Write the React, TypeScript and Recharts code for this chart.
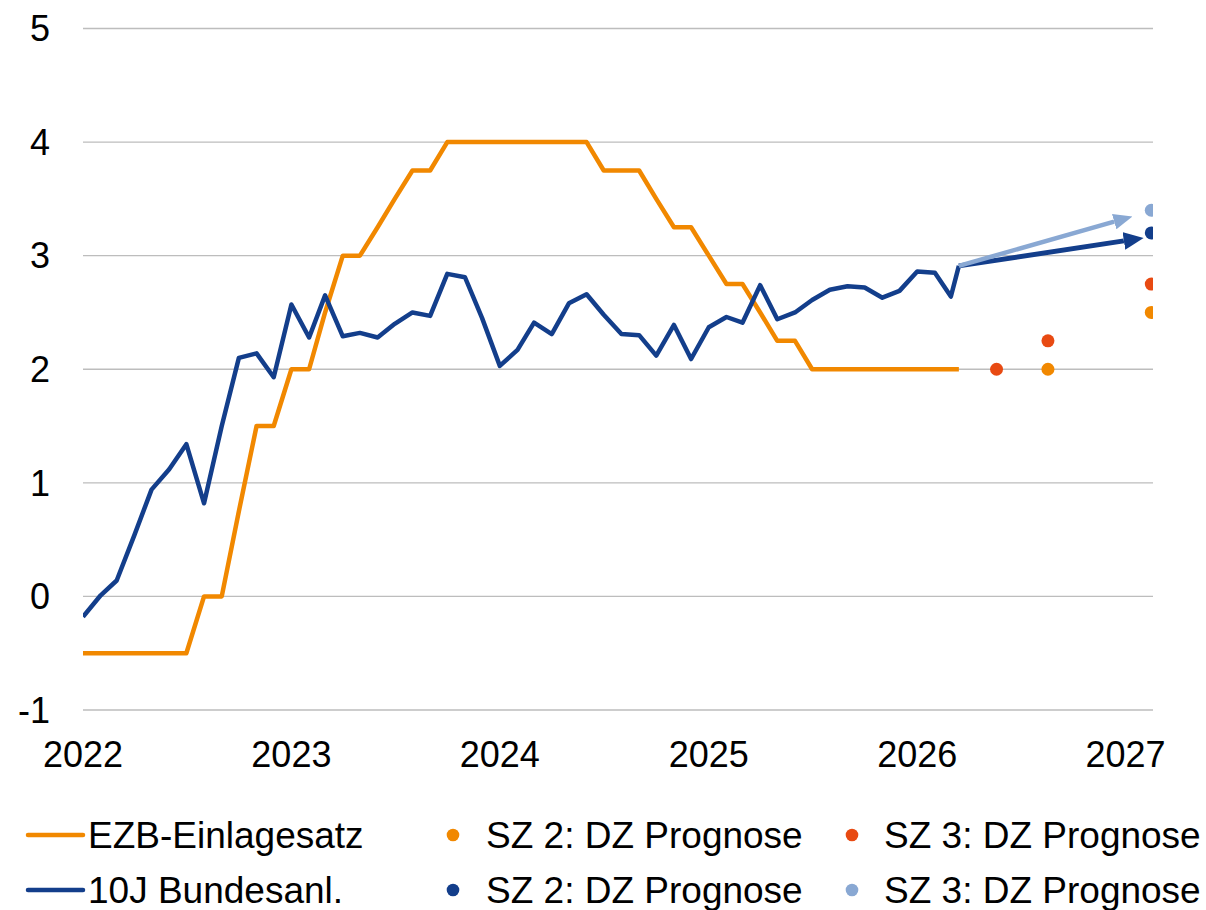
import { CartesianGrid, Line, LineChart, XAxis, YAxis } from "recharts";

const histDates = [
  "2022-01-01", "2022-02-01", "2022-03-01", "2022-04-01", "2022-05-01", "2022-06-01",
  "2022-07-01", "2022-08-01", "2022-09-01", "2022-10-01", "2022-11-01", "2022-12-01",
  "2023-01-01", "2023-02-01", "2023-03-01", "2023-04-01", "2023-05-01", "2023-06-01",
  "2023-07-01", "2023-08-01", "2023-09-01", "2023-10-01", "2023-11-01", "2023-12-01",
  "2024-01-01", "2024-02-01", "2024-03-01", "2024-04-01", "2024-05-01", "2024-06-01",
  "2024-07-01", "2024-08-01", "2024-09-01", "2024-10-01", "2024-11-01", "2024-12-01",
  "2025-01-01", "2025-02-01", "2025-03-01", "2025-04-01", "2025-05-01", "2025-06-01",
  "2025-07-01", "2025-08-01", "2025-09-01", "2025-10-01", "2025-11-01", "2025-12-01",
  "2026-01-01", "2026-02-01", "2026-03-01", "2026-03-15",
];

const ezbRate = [
  -0.5, -0.5, -0.5, -0.5, -0.5, -0.5, -0.5, 0, 0, 0.75, 1.5, 1.5,
  2, 2, 2.5, 3, 3, 3.25, 3.5, 3.75, 3.75, 4, 4, 4,
  4, 4, 4, 4, 4, 4, 3.75, 3.75, 3.75, 3.5, 3.25, 3.25,
  3, 2.75, 2.75, 2.5, 2.25, 2.25, 2, 2, 2, 2, 2, 2,
  2, 2, 2, 2,
];

const bund10y = [
  -0.18, 0.01, 0.14, 0.54, 0.94, 1.12, 1.34, 0.82, 1.5, 2.1, 2.14, 1.93,
  2.57, 2.28, 2.65, 2.29, 2.32, 2.28, 2.4, 2.5, 2.47, 2.84, 2.81, 2.45,
  2.03, 2.17, 2.41, 2.31, 2.58, 2.66, 2.48, 2.31, 2.3, 2.12, 2.39, 2.09,
  2.37, 2.46, 2.41, 2.74, 2.44, 2.5, 2.61, 2.7, 2.73, 2.72, 2.63, 2.69,
  2.86, 2.85, 2.64, 2.91,
];

const forecastDates = ["2026-05-20", "2026-08-18", "2027-02-15"];
const sz2Ezb = [null, 2.0, 2.5];
const sz3Ezb = [2.0, 2.25, 2.75];
const sz2Bund = [null, null, 3.2];
const sz3Bund = [null, null, 3.4];

const arrowDates = ["2026-03-15", "2026-12-29"];
const sz2ArrowValues = [2.91, 3.13];
const arrowDatesSz3 = ["2026-03-15", "2026-12-12"];
const sz3ArrowValues = [2.91, 3.3];

const yearTicks = ["2022-01-01", "2023-01-01", "2024-01-01", "2025-01-01", "2026-01-01", "2027-01-01"];
const yTicks = [-1, 0, 1, 2, 3, 4, 5];
const xDomainDates = ["2022-01-01", "2027-02-18"];

const ORANGE = "#F18800";
const RED = "#E84A12";
const BLUE = "#133E8B";
const LIGHT_BLUE = "#89A8D3";

const legendItems = [
  { label: "EZB-Einlagesatz", color: ORANGE, kind: "line", col: 0, row: 0 },
  { label: "10J Bundesanl.", color: BLUE, kind: "line", col: 0, row: 1 },
  { label: "SZ 2: DZ Prognose", color: ORANGE, kind: "dot", col: 1, row: 0 },
  { label: "SZ 2: DZ Prognose", color: BLUE, kind: "dot", col: 1, row: 1 },
  { label: "SZ 3: DZ Prognose", color: RED, kind: "dot", col: 2, row: 0 },
  { label: "SZ 3: DZ Prognose", color: LIGHT_BLUE, kind: "dot", col: 2, row: 1 },
];

const toX = (s: string) => {
  const [y, m, d] = s.split("-").map(Number);
  return Date.UTC(y, m - 1, d);
};

const zip = (dates: string[], values: (number | null)[]) =>
  dates.map((d, i) => ({ x: toX(d), y: values[i] }));

const ezbData = zip(histDates, ezbRate);
const bundData = zip(histDates, bund10y);
const sz2EzbData = zip(forecastDates, sz2Ezb);
const sz3EzbData = zip(forecastDates, sz3Ezb);
const sz2BundData = zip(forecastDates, sz2Bund);
const sz3BundData = zip(forecastDates, sz3Bund);
const sz2Arrow = zip(arrowDates, sz2ArrowValues);
const sz3Arrow = zip(arrowDatesSz3, sz3ArrowValues);

const FONT = "'Liberation Sans', Arial, sans-serif";

function Legend() {
  const lineX = [28, 453, 852];
  const textX = [88, 486, 884];
  const rowY = [835, 890];
  return (
    <svg width={1206} height={110} style={{ position: "absolute", left: 0, top: 800 }}>
      {legendItems.map((item, i) => {
        const cy = rowY[item.row] - 800;
        return (
          <g key={i}>
            {item.kind === "line" ? (
              <line x1={lineX[item.col]} x2={83} y1={cy} y2={cy} stroke={item.color} strokeWidth={4.5} strokeLinecap="round" />
            ) : (
              <circle cx={lineX[item.col]} cy={cy} r={6.3} fill={item.color} />
            )}
            <text x={textX[item.col]} y={cy + 13} fontSize={37} fontFamily={FONT} fill="#000">
              {item.label}
            </text>
          </g>
        );
      })}
    </svg>
  );
}

export default function App() {
  return (
    <div style={{ position: "absolute", left: 0, top: 0, width: 1206, height: 910, fontFamily: FONT, background: "#fff" }}>
      <LineChart width={1206} height={910} margin={{ top: 28.5, right: 53, left: 0, bottom: 160 }}>
        <defs>
          <marker id="arrowDark" viewBox="0 0 20 18" markerWidth={20} markerHeight={18} refX={0} refY={9} orient="auto" markerUnits="userSpaceOnUse">
            <path d="M0,0 L20,9 L0,18 z" fill={BLUE} />
          </marker>
          <marker id="arrowLight" viewBox="0 0 19 16" markerWidth={19} markerHeight={16} refX={0} refY={8} orient="auto" markerUnits="userSpaceOnUse">
            <path d="M0,0 L19,8 L0,16 z" fill={LIGHT_BLUE} />
          </marker>
        </defs>
        <CartesianGrid vertical={false} stroke="#BDBDBD" strokeWidth={1.4} />
        <XAxis
          type="number"
          dataKey="x"
          domain={xDomainDates.map(toX)}
          ticks={yearTicks.map(toX)}
          tickFormatter={(v: number) => String(new Date(v).getUTCFullYear())}
          interval={0}
          axisLine={false}
          tickLine={false}
          tickSize={0}
          tickMargin={31}
          height={40}
          tick={{ fontSize: 36, fill: "#000", fontFamily: FONT }}
          allowDataOverflow
        />
        <YAxis
          type="number"
          domain={[-1, 5]}
          ticks={yTicks}
          interval={0}
          axisLine={false}
          tickLine={false}
          tickSize={0}
          tickMargin={33}
          width={83}
          tick={{ fontSize: 36, fill: "#000", fontFamily: FONT }}
        />
        <Line data={ezbData} dataKey="y" stroke={ORANGE} strokeWidth={4.5} dot={false} activeDot={false} isAnimationActive={false} strokeLinejoin="round" />
        <Line data={bundData} dataKey="y" stroke={BLUE} strokeWidth={4.5} dot={false} activeDot={false} isAnimationActive={false} strokeLinejoin="round" />
        <Line data={sz2Arrow} dataKey="y" stroke={BLUE} strokeWidth={5} dot={false} activeDot={false} isAnimationActive={false} markerEnd="url(#arrowDark)" />
        <Line data={sz3Arrow} dataKey="y" stroke={LIGHT_BLUE} strokeWidth={4.5} dot={false} activeDot={false} isAnimationActive={false} markerEnd="url(#arrowLight)" />
        <Line data={sz2EzbData} dataKey="y" stroke="none" dot={{ r: 6.5, fill: ORANGE, stroke: "none" }} activeDot={false} isAnimationActive={false} />
        <Line data={sz3EzbData} dataKey="y" stroke="none" dot={{ r: 6.5, fill: RED, stroke: "none" }} activeDot={false} isAnimationActive={false} />
        <Line data={sz2BundData} dataKey="y" stroke="none" dot={{ r: 6.5, fill: BLUE, stroke: "none" }} activeDot={false} isAnimationActive={false} />
        <Line data={sz3BundData} dataKey="y" stroke="none" dot={{ r: 6.5, fill: LIGHT_BLUE, stroke: "none" }} activeDot={false} isAnimationActive={false} />
      </LineChart>
      <Legend />
    </div>
  );
}
